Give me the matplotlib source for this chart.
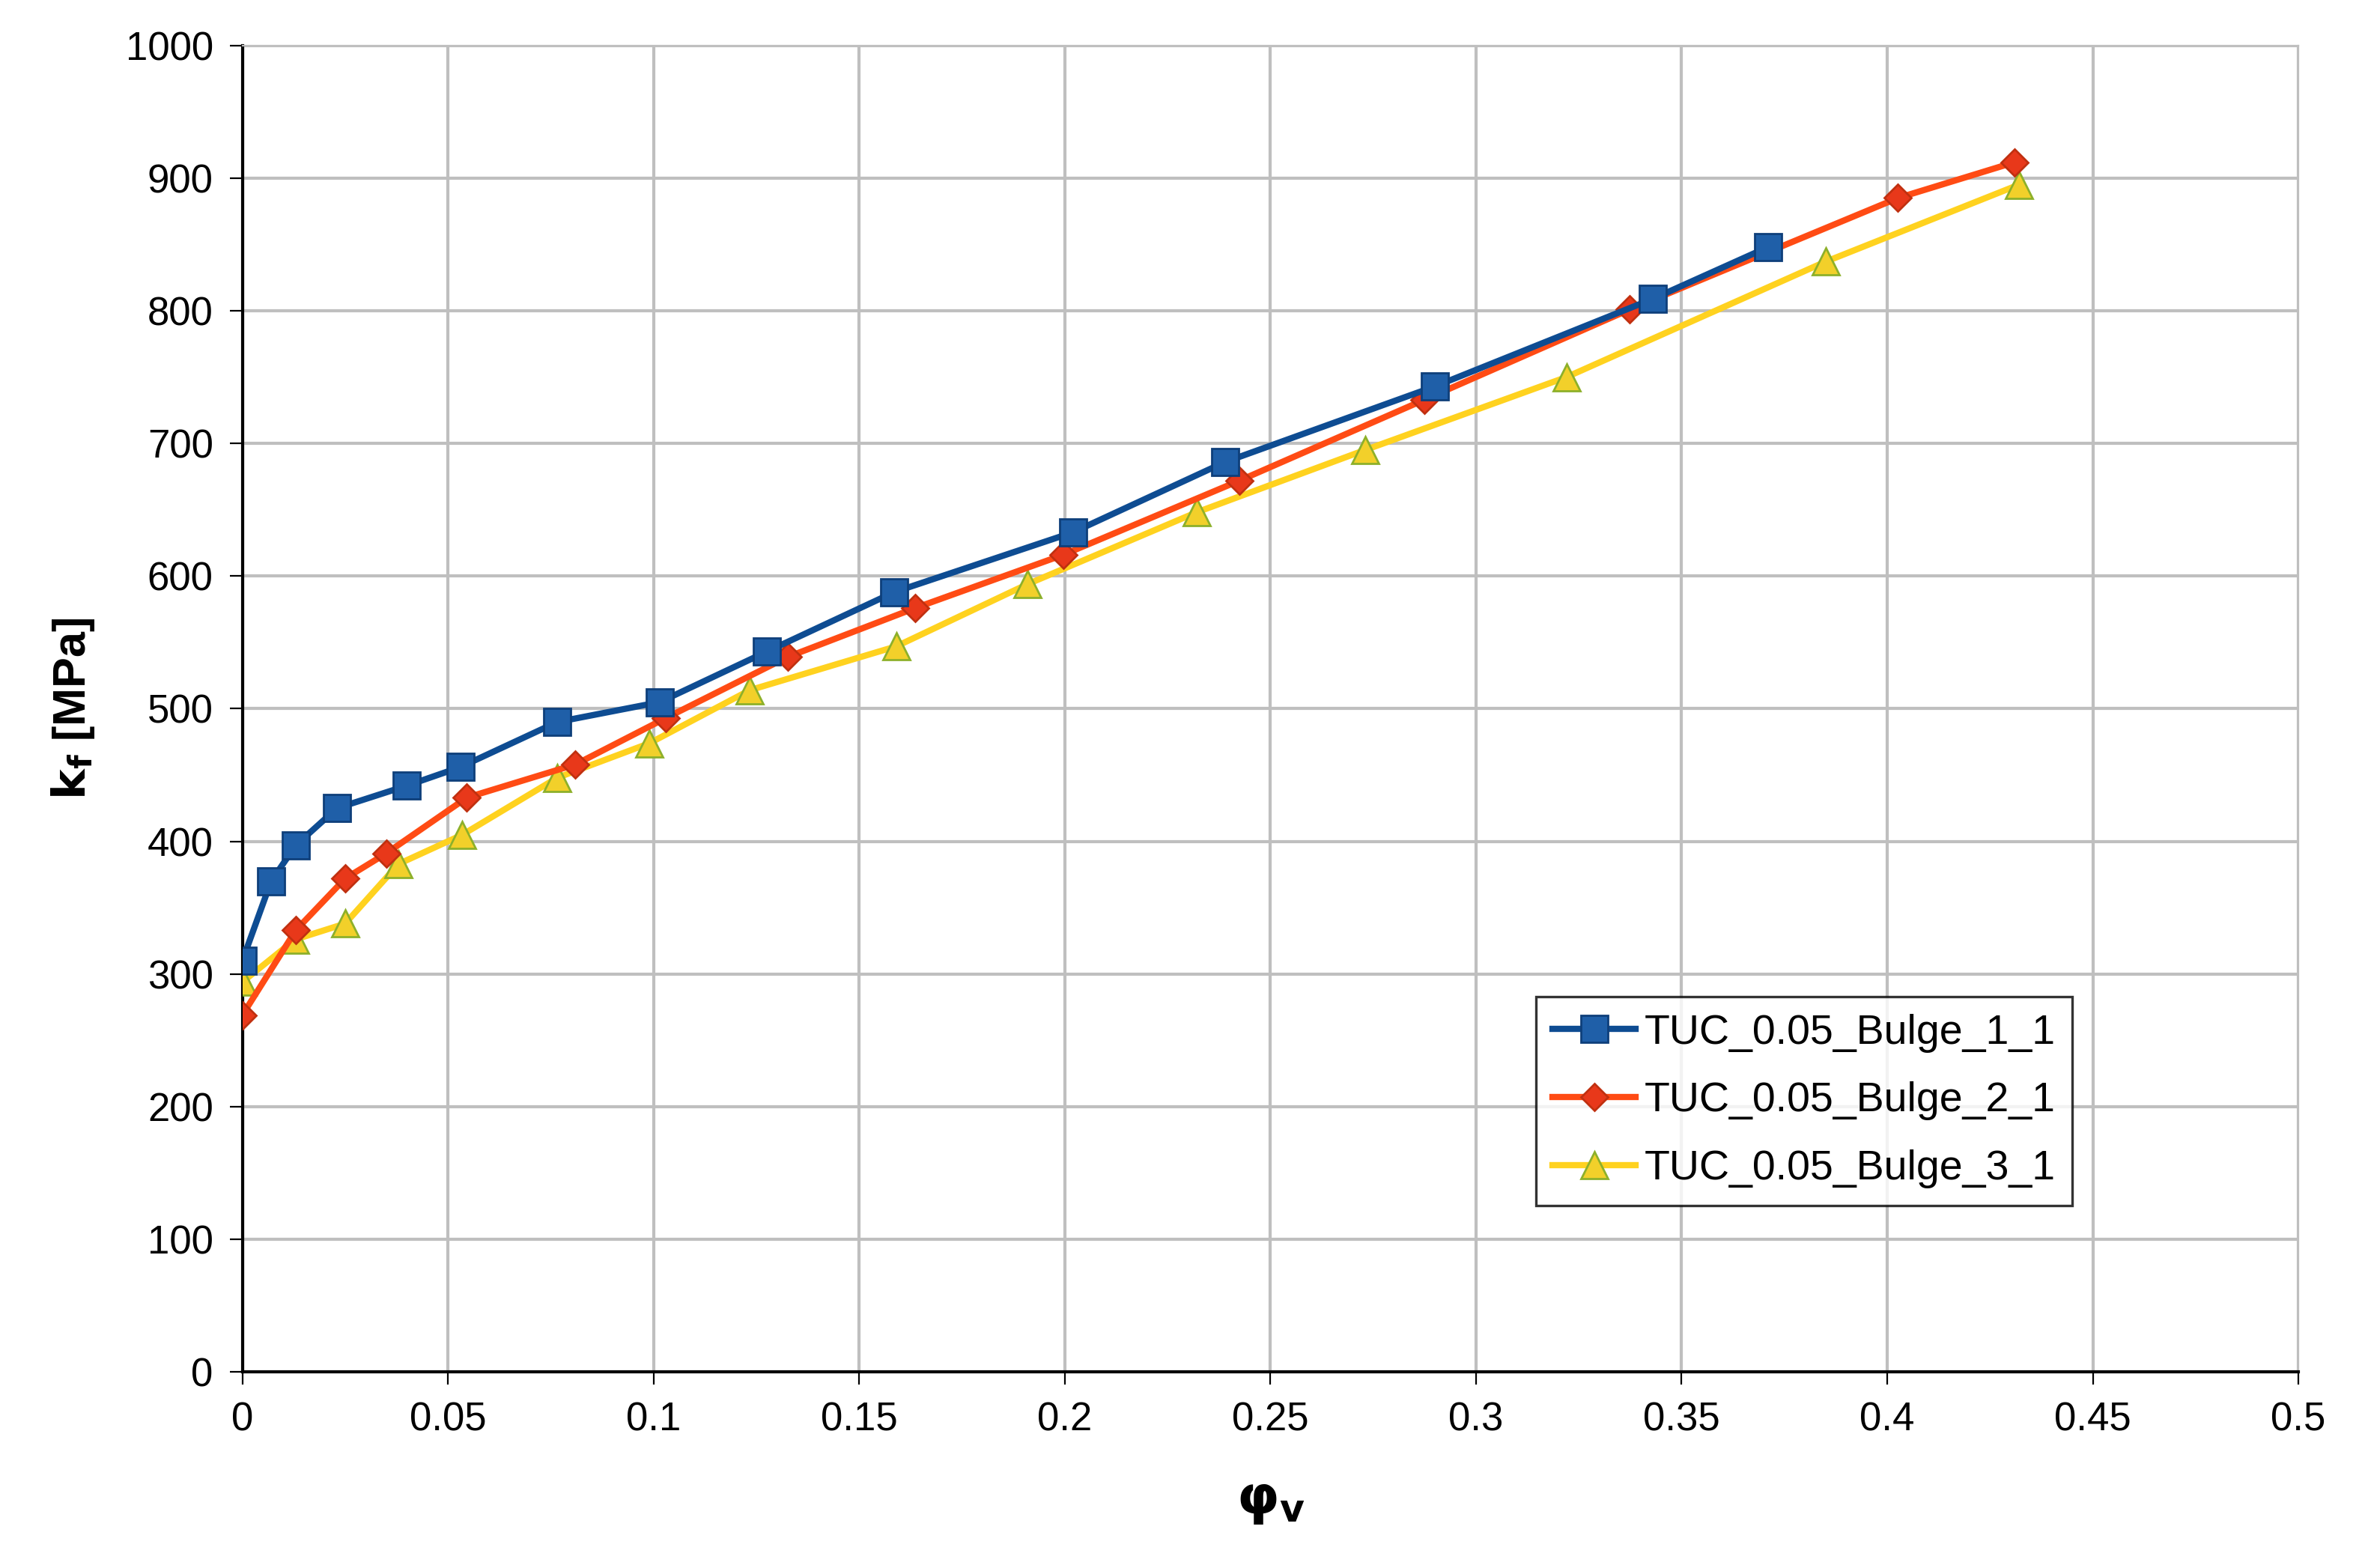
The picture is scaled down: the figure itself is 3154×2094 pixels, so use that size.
import matplotlib
matplotlib.use("Agg")
import matplotlib.pyplot as plt

plt.rcParams["font.family"] = ["Liberation Sans", "DejaVu Sans"]

x1 = [0, 0.007, 0.013, 0.023, 0.040, 0.053, 0.0766, 0.1015, 0.1275, 0.1586, 0.202, 0.239, 0.290, 0.343, 0.371]
y1 = [310, 370, 397, 425, 442, 456, 490, 505, 543, 588, 633, 686, 743, 809, 848]
x2 = [0, 0.013, 0.025, 0.035, 0.0546, 0.081, 0.103, 0.1326, 0.1637, 0.1996, 0.2425, 0.2875, 0.3374, 0.4026, 0.431]
y2 = [269, 333, 372, 391, 433, 458, 493, 539, 576, 616, 672, 733, 801, 885, 912]
x3 = [0, 0.0128, 0.025, 0.038, 0.0535, 0.0766, 0.099, 0.1234, 0.159, 0.191, 0.232, 0.273, 0.322, 0.385, 0.432]
y3 = [294, 326, 338, 383, 405, 448, 474, 514, 547, 594, 648, 695, 750, 837, 895]
labels = ["TUC_0.05_Bulge_1_1", "TUC_0.05_Bulge_2_1", "TUC_0.05_Bulge_3_1"]

fig = plt.figure(figsize=(15.77, 10.47), dpi=200)
ax = fig.add_axes([0.1026, 0.125, 0.8705, 0.846])

ax.plot(x1, y1, color="#0E4C92", lw=3, marker="s", ms=13, mfc="#1F5FA8", mec="#0E3F7A", label=labels[0], zorder=5)
ax.plot(x2, y2, color="#FF4B14", lw=3, marker="D", ms=9, mfc="#E8381A", mec="#C03010", label=labels[1], zorder=4)
ax.plot(x3, y3, color="#FFD21F", lw=3, marker="^", ms=13, mfc="#F2D02A", mec="#8DB02A", label=labels[2], zorder=3)

ax.set_xlim(0, 0.5)
ax.set_ylim(0, 1000)
ax.set_xticks([i * 0.05 for i in range(11)])
ax.set_xticklabels(["0", "0.05", "0.1", "0.15", "0.2", "0.25", "0.3", "0.35", "0.4", "0.45", "0.5"])
ax.set_yticks(range(0, 1001, 100))
ax.grid(True, color="#BFBFBF", lw=1.5)
ax.set_axisbelow(True)
ax.tick_params(labelsize=19, length=6, direction="out", pad=8)
for s in ["top", "right"]:
    ax.spines[s].set_color("#BFBFBF")
for s in ["left", "bottom"]:
    ax.spines[s].set_linewidth(1.5)

ax.set_xlabel(r"$\mathbf{\varphi_v}$", fontsize=26, labelpad=18)
ax.set_ylabel(r"$\mathbf{k_f}$ [MPa]", fontsize=22, fontweight="bold", labelpad=14)

leg = ax.legend(loc="lower right", bbox_to_anchor=(0.9, 0.11), fontsize=20, frameon=True,
                fancybox=False, edgecolor="black", handlelength=2.0, handletextpad=0.2,
                borderpad=0.4, labelspacing=0.7)
leg.get_frame().set_linewidth(1.2)

fig.savefig("out.png", dpi=200)
